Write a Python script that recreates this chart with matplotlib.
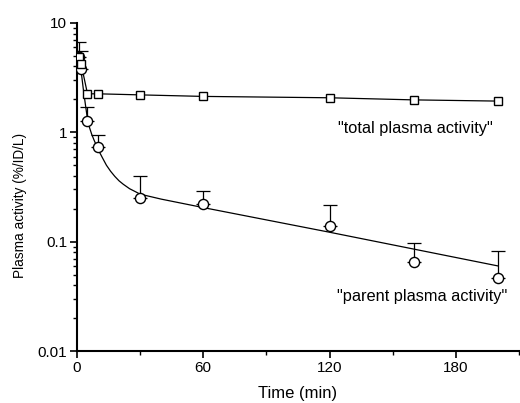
import matplotlib
matplotlib.use("Agg")
import matplotlib.pyplot as plt
import numpy as np
from matplotlib.ticker import FixedLocator, NullFormatter, LogLocator

plt.rcParams['font.family'] = ['Liberation Sans', 'DejaVu Sans']

# total plasma activity (squares)
total_t = [1, 2, 5, 10, 30, 60, 120, 160, 200]
total_v = [4.9, 4.2, 2.25, 2.25, 2.2, 2.13, 2.07, 1.98, 1.93]

# parent plasma activity (circles) with upper error bar tops
parent_t = [1, 2, 5, 10, 30, 60, 120, 160, 200]
parent_v = [4.9, 3.8, 1.27, 0.73, 0.252, 0.222, 0.14, 0.065, 0.047]
parent_err_top = [6.7, 5.5, 1.72, 0.95, 0.395, 0.29, 0.218, 0.097, 0.082]

# fitted curve for parent activity
fit_t = [0.3, 1, 2, 3, 4, 5, 6, 7, 8, 10, 12, 14, 16, 18, 20, 22, 25, 28, 30, 40, 60, 120, 200]
fit_v = [5.6, 4.6, 3.6, 2.5, 1.8, 1.32, 1.1, 0.96, 0.86, 0.70, 0.59, 0.50, 0.44, 0.395, 0.36,
         0.335, 0.305, 0.285, 0.272, 0.245, 0.205, 0.122, 0.060]

x_ticks = [0, 60, 120, 180]
x_minor = [30, 90, 150, 210]
y_ticks = [0.01, 0.1, 1, 10]
y_labels = ['0.01', '0.1', '1', '10']

fig = plt.figure(figsize=(5.2, 4.03), dpi=100)
ax = fig.add_axes([0.148, 0.129, 0.85, 0.814])

ax.plot(fit_t, fit_v, color='black', lw=0.9, zorder=2)
ax.plot(total_t, total_v, color='black', lw=0.9, zorder=2)

lower = [0] * len(parent_v)
upper = [t - v for t, v in zip(parent_err_top, parent_v)]
ax.errorbar(parent_t, parent_v, yerr=[lower, upper], fmt='none', ecolor='black',
            elinewidth=0.9, capsize=4.7, capthick=0.9, zorder=3)
ax.plot(parent_t, parent_v, linestyle='none', marker='o', ms=7.3, mfc='white',
        mec='black', mew=1.0, zorder=4)
ax.plot(total_t, total_v, linestyle='none', marker='s', ms=6.3, mfc='white',
        mec='black', mew=1.0, zorder=4)

ax.set_yscale('log')
ax.set_ylim(0.01, 10)
ax.set_xlim(0, 210)
ax.set_yticks(y_ticks)
ax.set_yticklabels(y_labels)
ax.yaxis.set_minor_locator(LogLocator(base=10, subs=np.arange(2, 10)))
ax.yaxis.set_minor_formatter(NullFormatter())
ax.set_xticks(x_ticks)
ax.set_xticklabels([str(v) for v in x_ticks])
ax.xaxis.set_minor_locator(FixedLocator(x_minor))

for s in ['top', 'right']:
    ax.spines[s].set_visible(False)
for s in ['left', 'bottom']:
    ax.spines[s].set_linewidth(1.5)

ax.tick_params(axis='both', which='major', direction='out', length=5, width=1.2,
               labelsize=11, pad=2)
ax.tick_params(axis='both', which='minor', direction='out', length=3, width=1.0)

ax.set_xlabel('Time (min)', fontsize=12, labelpad=8)
fig.text(20 / 520, 1 - 205 / 403, 'Plasma activity (%/ID/L)', fontsize=9.8,
         rotation=90, va='center', ha='center')

fig.text(338 / 520, 1 - 129 / 403, '"total plasma activity"', fontsize=11.8,
         va='center', ha='left')
fig.text(337 / 520, 1 - 296 / 403, '"parent plasma activity"', fontsize=11.8,
         va='center', ha='left')

fig.savefig('out.png', dpi=100)
